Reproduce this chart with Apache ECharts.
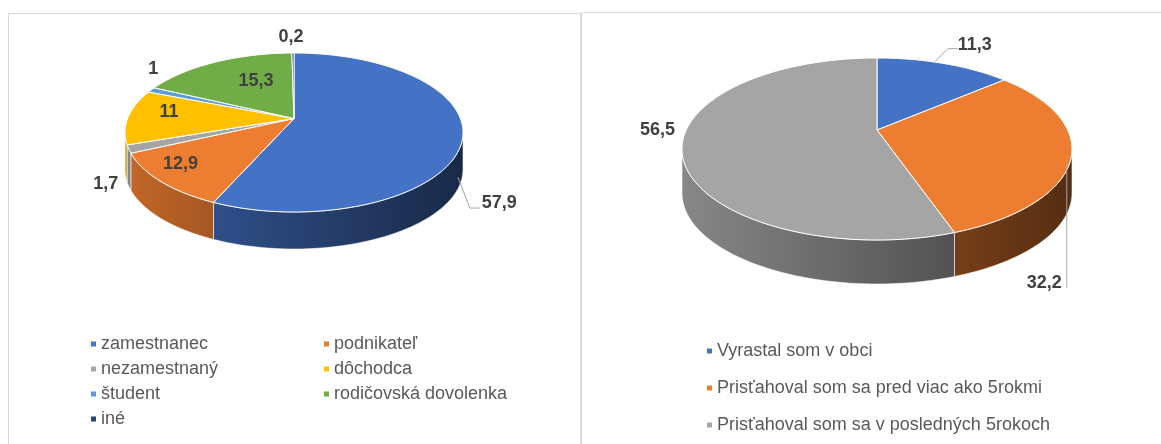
<!DOCTYPE html>
<html>
<head>
<meta charset="utf-8">
<script src="https://cdn.jsdelivr.net/npm/echarts@6/dist/echarts.min.js"></script>
<style>
html,body{margin:0;padding:0;background:#fff;}
#chart{width:1161px;height:444px;}
</style>
</head>
<body>
<div id="chart"></div>
<script>
// lavy graf - ekonomicky status
var statusNames = ['zamestnanec', 'podnikateľ', 'nezamestnaný', 'dôchodca', 'študent', 'rodičovská dovolenka', 'iné'];
var statusValues = [57.9, 12.9, 1.7, 11, 1, 15.3, 0.2];
// pravy graf - dlzka pobytu v obci
var stayNames = ['Vyrastal som v obci', 'Prisťahoval som sa pred viac ako 5rokmi', 'Prisťahoval som sa v posledných 5rokoch'];
var stayValues = [11.3, 32.2, 56.5];

var statusColors = ['#4472c4', '#ed7d31', '#a5a5a5', '#ffc000', '#5b9bd5', '#70ad47', '#264478'];
var stayColors = ['#4472c4', '#ed7d31', '#a5a5a5'];

// geometria "3D" kolacov (elipsa + hrubka)
var statusGeo = {cx: 294, cy: 132.5, rx: 169, ry: 79.5, apexDy: -14, depth: 37};
var stayGeo = {cx: 877, cy: 149, rx: 195, ry: 91, apexDy: -19, depth: 44};

// umiestnenie popiskov voci bodu na okraji v strede vysece
var statusLabelPos = [
    {dx: 24, dy: 51, align: 'left', line: [[0, 25], [12, 56], [22, 56]]},
    {dx: 19, dy: -18},
    {dx: -23, dy: 35},
    {dx: 41, dy: -6},
    {dx: 2, dy: -21},
    {dx: 42, dy: 19},
    {dx: -2, dy: -16}
];
var stayLabelPos = [
    {dx: 13, dy: -19, align: 'left', line: [[-10, -2], [3, -15], [13, -15]]},
    {dx: -8, dy: 120, align: 'right', line: [[-3, 0], [-3, 125]]},
    {dx: -11, dy: -37, align: 'right'}
];

function shade(hex, f) {
    var n = parseInt(hex.slice(1), 16);
    var r = Math.round(((n >> 16) & 255) * f), g = Math.round(((n >> 8) & 255) * f), b = Math.round((n & 255) * f);
    return 'rgb(' + r + ',' + g + ',' + b + ')';
}

function pie3d(values, colors, geo, labels) {
    var total = values.reduce(function (a, b) { return a + b; }, 0);
    var starts = [], acc = 0;
    values.forEach(function (v) { starts.push(acc / total * Math.PI * 2); acc += v; });
    function pt(a, dy) {
        return [geo.cx + geo.rx * Math.sin(a), geo.cy - geo.ry * Math.cos(a) + (dy || 0)];
    }
    function arc(a0, a1, dy) {
        var n = Math.max(2, Math.ceil((a1 - a0) / (Math.PI / 120)));
        var out = [];
        for (var k = 0; k <= n; k++) out.push(pt(a0 + (a1 - a0) * k / n, dy));
        return out;
    }
    return function (params, api) {
        var i = params.dataIndex;
        var a0 = starts[i];
        var a1 = a0 + api.value(0) / total * Math.PI * 2;
        var children = [];
        // bocna stena (len predna polovica)
        var w0 = Math.max(a0, Math.PI / 2), w1 = Math.min(a1, Math.PI * 1.5);
        if (w1 > w0) {
            var side = arc(w0, w1, 0).concat(arc(w0, w1, geo.depth).reverse());
            children.push({
                type: 'polygon',
                shape: {points: side},
                style: {
                    fill: new echarts.graphic.LinearGradient(geo.cx - geo.rx, 0, geo.cx + geo.rx, 0, [
                        {offset: 0, color: shade(colors[i], 0.82)},
                        {offset: 1, color: shade(colors[i], 0.36)}
                    ], true),
                    stroke: 'rgba(255,255,255,0.7)',
                    lineWidth: 0.8
                }
            });
        }
        // horna plocha
        var apex = [geo.cx, geo.cy + geo.apexDy];
        children.push({
            type: 'polygon',
            shape: {points: [apex].concat(arc(a0, a1, 0))},
            style: {fill: colors[i], stroke: '#ffffff', lineWidth: 1}
        });
        // popisok
        var mid = pt((a0 + a1) / 2, 0);
        var lp = labels[i];
        if (lp.line) {
            children.push({
                type: 'polyline',
                z2: 10,
                shape: {points: lp.line.map(function (p) { return [mid[0] + p[0], mid[1] + p[1]]; })},
                style: {stroke: '#a6a6a6', fill: null, lineWidth: 1}
            });
        }
        children.push({
            type: 'text',
            z2: 11,
            style: {
                x: mid[0] + lp.dx,
                y: mid[1] + lp.dy,
                text: String(api.value(0)).replace('.', ','),
                fill: '#404040',
                font: 'bold 18px "Liberation Sans", Arial, sans-serif',
                align: lp.align || 'center',
                verticalAlign: 'middle'
            }
        });
        return {type: 'group', children: children};
    };
}

function legendPie(names, values, colors) {
    return {
        type: 'pie',
        radius: [0, 0],
        silent: true,
        label: {show: false},
        labelLine: {show: false},
        data: names.map(function (n, i) {
            return {name: n, value: values[i], itemStyle: {color: colors[i]}};
        })
    };
}

var legendText = {color: '#595959', fontSize: 18, lineHeight: 16, fontFamily: '"Liberation Sans", Arial, sans-serif'};

var option = {
    animation: false,
    backgroundColor: '#ffffff',
    graphic: [
        {type: 'rect', silent: true, shape: {x: 8.5, y: 13.5, width: 572, height: 440},
            style: {fill: null, stroke: '#d9d9d9', lineWidth: 1}},
        {type: 'polyline', silent: true, shape: {points: [[581.5, 444], [581.5, 12.5], [1161, 12.5]]},
            style: {fill: null, stroke: '#d9d9d9', lineWidth: 1}}
    ],
    legend: [
        {left: 91, top: 335, orient: 'vertical', icon: 'rect', itemWidth: 5, itemHeight: 5, itemGap: 7, padding: 0,
            selectedMode: false, textStyle: legendText,
            data: [statusNames[0], statusNames[2], statusNames[4], statusNames[6]]},
        {left: 324, top: 335, orient: 'vertical', icon: 'rect', itemWidth: 5, itemHeight: 5, itemGap: 7, padding: 0,
            selectedMode: false, textStyle: legendText,
            data: [statusNames[1], statusNames[3], statusNames[5]]},
        {left: 707, top: 342, orient: 'vertical', icon: 'rect', itemWidth: 5, itemHeight: 5, itemGap: 19, padding: 0,
            selectedMode: false, textStyle: legendText,
            data: stayNames}
    ],
    series: [
        {
            type: 'custom',
            name: 'status',
            coordinateSystem: 'none',
            silent: true,
            renderItem: pie3d(statusValues, statusColors, statusGeo, statusLabelPos),
            data: statusValues.map(function (v, i) { return {name: statusNames[i], value: v}; })
        },
        {
            type: 'custom',
            name: 'pobyt',
            coordinateSystem: 'none',
            silent: true,
            renderItem: pie3d(stayValues, stayColors, stayGeo, stayLabelPos),
            data: stayValues.map(function (v, i) { return {name: stayNames[i], value: v}; })
        },
        legendPie(statusNames, statusValues, statusColors),
        legendPie(stayNames, stayValues, stayColors)
    ]
};

var chart = echarts.init(document.getElementById('chart'));
chart.setOption(option);
</script>
</body>
</html>
